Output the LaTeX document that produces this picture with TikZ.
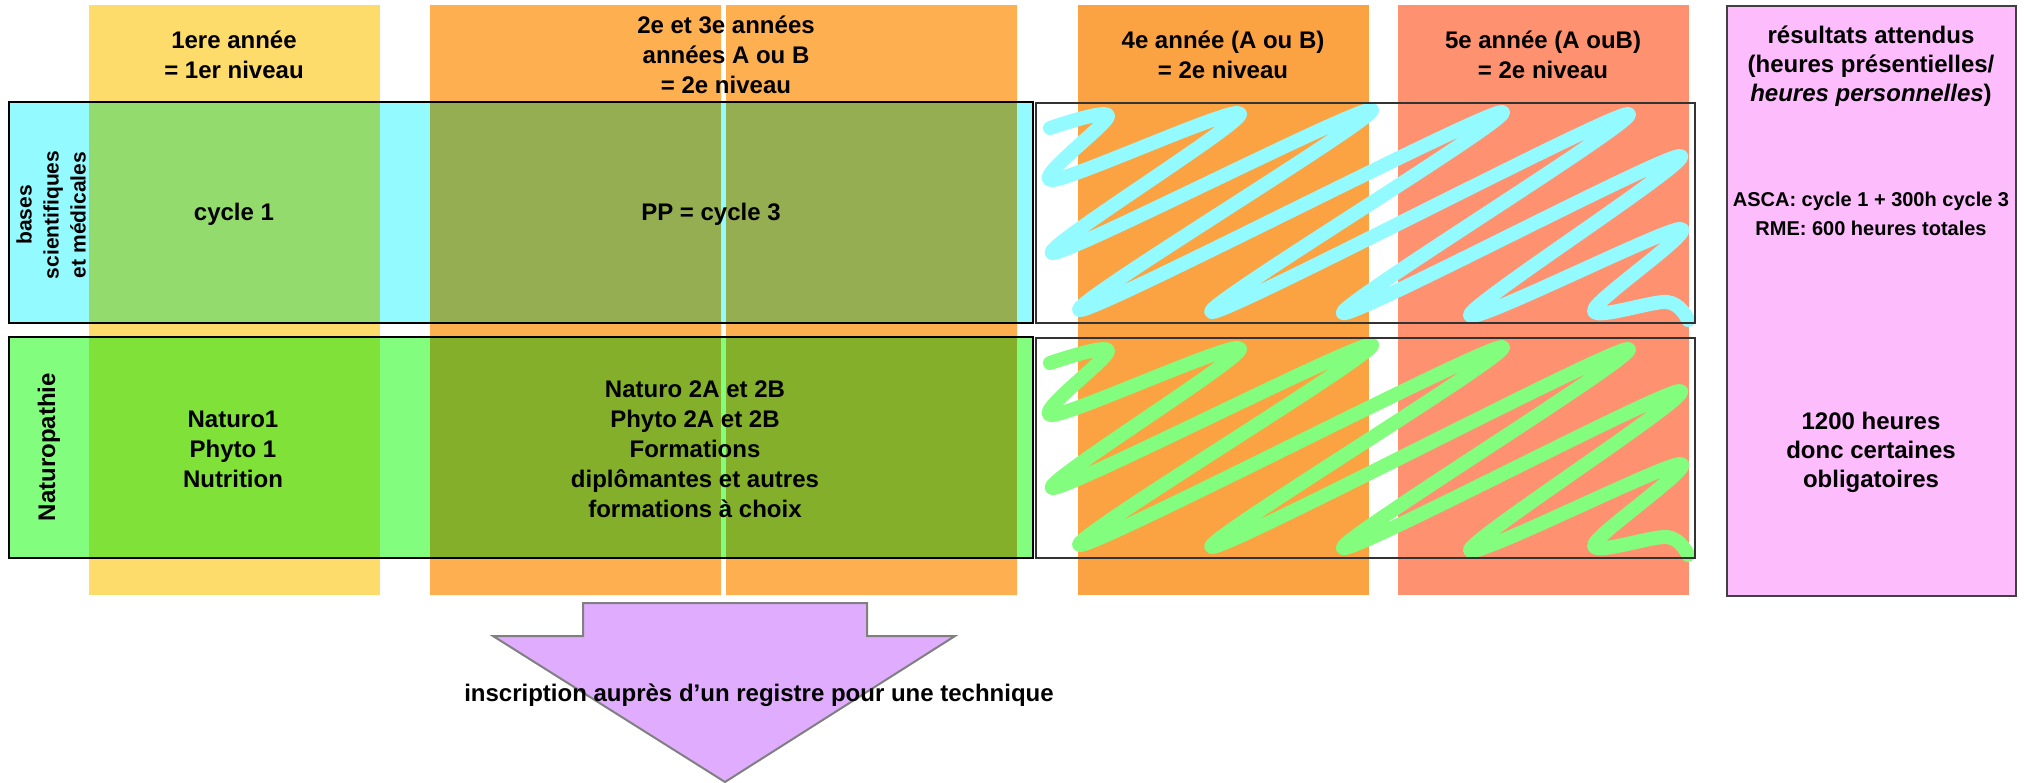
\documentclass[tikz,border=0pt]{standalone}
\usepackage{fontspec}
\setmainfont{Liberation Sans}
\usepackage{tikz}
\usepackage{xcolor}
\definecolor{jaune}{RGB}{254,220,108}
\definecolor{orangeA}{RGB}{254,175,80}
\definecolor{orangeB}{RGB}{251,163,66}
\definecolor{saumon}{RGB}{254,146,112}
\definecolor{rose}{RGB}{253,189,253}
\definecolor{cyanclair}{RGB}{147,251,255}
\definecolor{vertclair}{RGB}{131,253,126}
\definecolor{cyanjaune}{RGB}{147,219,108}
\definecolor{cyanorange}{RGB}{150,174,82}
\definecolor{vertjaune}{RGB}{128,226,56}
\definecolor{vertorange}{RGB}{131,175,42}
\definecolor{lilas}{RGB}{224,172,253}
\tikzset{
	txt/.style={font=\bfseries\fontsize{12}{15}\selectfont, align=center, inner sep=0pt},
	petit/.style={font=\bfseries\fontsize{10}{14.2}\selectfont, align=center, inner sep=0pt},
	cadre/.style={draw=black, line width=0.75pt},
	gribouille/.style={line width=7pt, line cap=round, line join=round}
}

\begin{document}
\begin{tikzpicture}[x=0.5pt,y=-0.5pt]
			\useasboundingbox (0,0) rectangle (2024,782);
			\fill[jaune] (89,5) rectangle (380,595);
			\fill[orangeA] (430,5) rectangle (721,595) (726,5) rectangle (1017,595);
			\fill[orangeB] (1078,5) rectangle (1369,595);
			\fill[saumon] (1398,5) rectangle (1689,595);
			\draw[fill=rose,draw=black!75,line width=0.75pt] (1727,6) rectangle (2016,596);
			\fill[cyanclair] (9,102) rectangle (1033,323);
			\fill[vertclair] (9,337) rectangle (1033,558);
			\fill[cyanjaune] (89,102) rectangle (380,323);
			\fill[vertjaune] (89,337) rectangle (380,558);
			\foreach \x in {430,726}
			{
			\fill[cyanorange] (\x,102) rectangle ++(291,221);
			\fill[vertorange] (\x,337) rectangle ++(291,221);
			}
			\draw[cadre] (9,102) rectangle (1033,323) (9,337) rectangle (1033,558);
			\foreach \dy/\c in {0/cyanclair,235/vertclair}
			\draw[gribouille,\c,shift={(0,\dy)}] plot[smooth,tension=0.55] coordinates {(1050,128) (1108,116) (1052,180) (1240,114) (1053,253) (1372,110) (1080,310) (1502,112) (1212,312) (1628,114) (1343,313) (1680,156) (1470,315) (1680,229) (1594,310) (1667,302) (1688,320)};
			\draw[cadre,draw=black!80] (1036,103) rectangle (1695,323) (1036,338) rectangle (1695,558);
			\draw[fill=lilas,draw=black!50,line width=1pt] (583,603) -- (867,603) -- (867,636) -- (955,636) -- (725,782) -- (493,636) -- (583,636) -- cycle;
			\node[txt] (an1) at (234,55) {1ere année\\= 1er niveau};
			\node[txt] (an23) at (726,55) {2e et 3e années\\années A ou B\\= 2e niveau};
			\node[txt] (an4) at (1223,55) {4e année (A ou B)\\= 2e niveau};
			\node[txt] (an5) at (1543,55) {5e année (A ouB)\\= 2e niveau};
			\node[txt,font=\bfseries\fontsize{12}{14.5}\selectfont] (res) at (1871,66) {résultats attendus\\(heures présentielles/\\\textit{heures personnelles})};
			\node[petit] (asca) at (1871,214) {ASCA: cycle 1 + 300h cycle 3\\RME: 600 heures totales};
			\node[txt,font=\bfseries\fontsize{12}{14.5}\selectfont] (heures) at (1871,452) {1200 heures\\donc certaines\\obligatoires};
			\node[txt,rotate=90,font=\bfseries\fontsize{10.5}{13.5}\selectfont] (bases) at (51,215) {bases\\scientifiques\\et médicales};
			\node[txt,rotate=90] (naturo) at (49,447) {Naturopathie};
			\node[txt] (cyc1) at (234,214) {cycle 1};
			\node[txt] (cyc3) at (711,214) {PP = cycle 3};
			\node[txt] (nat1) at (233,449) {Naturo1\\Phyto 1\\Nutrition};
			\node[txt] (nat2) at (695,449) {Naturo 2A et 2B\\Phyto 2A et 2B\\Formations\\diplômantes et autres\\formations à choix};
			\node[txt] (insc) at (759,695) {inscription auprès d’un registre pour une technique};
\end{tikzpicture}
\end{document}
